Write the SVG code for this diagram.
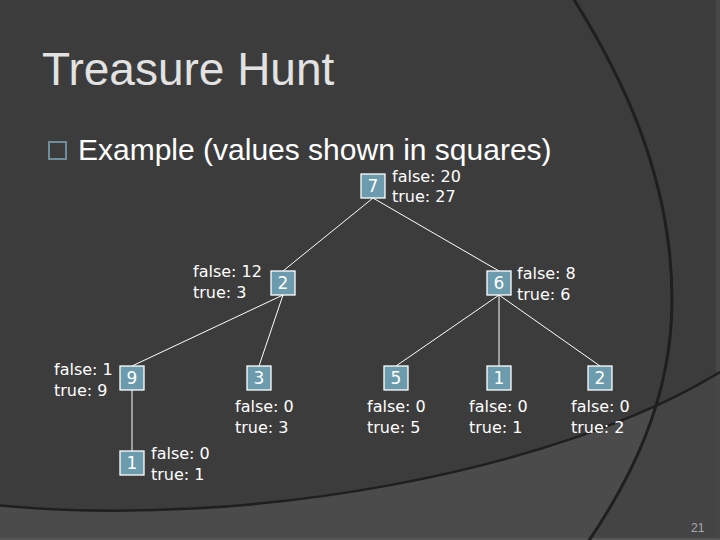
<svg xmlns="http://www.w3.org/2000/svg" width="720" height="540" viewBox="0 0 720 540">
<style>
.title{font-family:"Liberation Sans",Arial,sans-serif;font-size:46px;fill:#e2e2e2}
.sub{font-family:"Liberation Sans",Arial,sans-serif;font-size:30px;fill:#ffffff}
.lbl{font-family:"DejaVu Sans",Verdana,sans-serif;font-size:16px;fill:#ffffff}
.num{font-family:"DejaVu Sans",Verdana,sans-serif;font-size:17px;fill:#ffffff;text-anchor:middle}
.box{fill:#6b9bac;stroke:#ffffff;stroke-width:1.3}
.edge{stroke:#ffffff;stroke-width:1;fill:none}
.arc{fill:none;stroke:#1f1f1f}
.pg{font-family:"Liberation Sans",Arial,sans-serif;font-size:12px;fill:#a8a8a8}
</style>
<defs>
<clipPath id="belowB"><path d="M-5,505 C250,530 560,470 720,372 L720,540 L-5,540 Z"/></clipPath>
</defs>
<g id="background">
<rect x="0" y="0" width="720" height="540" fill="#3c3c3c"/>
<path d="M-5,505 C250,530 560,470 720,372 L720,540 L-5,540 Z" fill="#4b4b4b"/>
<path d="M573,-2 C615,65 672,170 672,300 C672,400 630,480 588,542 L720,542 L720,-2 Z" fill="#444444" clip-path="url(#belowB)"/>
<rect x="716" y="0" width="4" height="540" fill="#474747"/>
<rect x="0" y="538" width="720" height="2" fill="#555555"/>
<path class="arc" stroke-width="3" d="M573,-2 C615,65 672,170 672,300 C672,400 630,480 588,542"/>
<path class="arc" stroke-width="2.5" d="M-5,505 C250,530 560,470 720,372"/>
</g>
<g id="heading">
<text class="title" x="42" y="85">Treasure Hunt</text>
<rect x="49" y="142" width="17" height="17" fill="none" stroke="#6f8e9b" stroke-width="2"/>
<text class="sub" x="78" y="160">Example (values shown in squares)</text>
</g>
<g id="connectors">
<line class="edge" x1="373" y1="198" x2="283" y2="271"/>
<line class="edge" x1="373" y1="198" x2="499" y2="271"/>
<line class="edge" x1="283" y1="295" x2="132" y2="366"/>
<line class="edge" x1="283" y1="295" x2="259" y2="366"/>
<line class="edge" x1="132" y1="390" x2="132" y2="451"/>
<line class="edge" x1="499" y1="295" x2="396" y2="366"/>
<line class="edge" x1="499" y1="295" x2="499" y2="366"/>
<line class="edge" x1="499" y1="295" x2="600" y2="366"/>
</g>
<g id="n7">
<rect class="box" x="361" y="174" width="24" height="24"/>
<text class="num" x="373" y="192">7</text>
<text class="lbl" x="392" y="182">false: 20</text>
<text class="lbl" x="392" y="202">true: 27</text>
</g>
<g id="n2">
<rect class="box" x="271" y="271" width="24" height="24"/>
<text class="num" x="283" y="289">2</text>
<text class="lbl" x="193" y="277">false: 12</text>
<text class="lbl" x="193" y="298">true: 3</text>
</g>
<g id="n6">
<rect class="box" x="487" y="271" width="24" height="24"/>
<text class="num" x="499" y="289">6</text>
<text class="lbl" x="517" y="279">false: 8</text>
<text class="lbl" x="517" y="300">true: 6</text>
</g>
<g id="n9">
<rect class="box" x="120" y="366" width="24" height="24"/>
<text class="num" x="132" y="384">9</text>
<text class="lbl" x="54" y="375">false: 1</text>
<text class="lbl" x="54" y="396">true: 9</text>
</g>
<g id="n3">
<rect class="box" x="247" y="366" width="24" height="24"/>
<text class="num" x="259" y="384">3</text>
<text class="lbl" x="235" y="412">false: 0</text>
<text class="lbl" x="235" y="433">true: 3</text>
</g>
<g id="n1a">
<rect class="box" x="120" y="451" width="24" height="24"/>
<text class="num" x="132" y="469">1</text>
<text class="lbl" x="151" y="459">false: 0</text>
<text class="lbl" x="151" y="480">true: 1</text>
</g>
<g id="n5">
<rect class="box" x="384" y="366" width="24" height="24"/>
<text class="num" x="396" y="384">5</text>
<text class="lbl" x="367" y="412">false: 0</text>
<text class="lbl" x="367" y="433">true: 5</text>
</g>
<g id="n1b">
<rect class="box" x="487" y="366" width="24" height="24"/>
<text class="num" x="499" y="384">1</text>
<text class="lbl" x="469" y="412">false: 0</text>
<text class="lbl" x="469" y="433">true: 1</text>
</g>
<g id="n2b">
<rect class="box" x="588" y="366" width="24" height="24"/>
<text class="num" x="600" y="384">2</text>
<text class="lbl" x="571" y="412">false: 0</text>
<text class="lbl" x="571" y="433">true: 2</text>
</g>
<g id="page">
<text class="pg" x="691" y="532">21</text>
</g>
</svg>
